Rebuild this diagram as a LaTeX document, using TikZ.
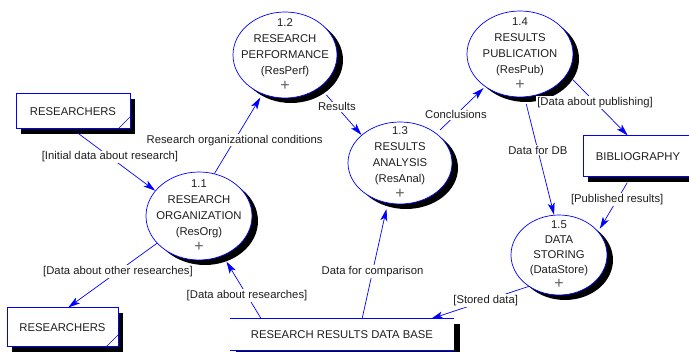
\documentclass[tikz,border=0pt]{standalone}
\usepackage{fontspec}
\setmainfont{Liberation Sans}
\definecolor{FlowBlue}{HTML}{0000FF}
\definecolor{InkDark}{HTML}{1E1E1E}
\usetikzlibrary{shapes.geometric, arrows.meta, shadows}
\newcommand{\pplus}{\textcolor{InkDark!70}{\fontsize{16}{16}\selectfont+}}

\begin{document}
\begin{tikzpicture}[x=1pt, y=-1pt,
    font=\fontsize{11.3}{16}\selectfont, text=InkDark,
    proc/.style={ellipse, draw=FlowBlue, line width=0.7pt, fill=white, inner sep=-16pt, align=center,
        drop shadow={fill=black, opacity=1, shadow xshift=6pt, shadow yshift=-5pt}},
    extern/.style={rectangle, draw=FlowBlue, line width=1pt, fill=white, inner sep=0pt,
        drop shadow={fill=black, opacity=1, shadow xshift=5pt, shadow yshift=-5pt}},
    store/.style={rectangle, fill=white, inner sep=0pt, minimum width=224pt, minimum height=31pt,
        drop shadow={fill=black, opacity=1, shadow xshift=6pt, shadow yshift=-5pt}},
    flow/.style={draw=FlowBlue, line width=0.7pt, -{Stealth[length=12pt, width=7pt, inset=3pt]}},
    lbl/.style={fill=white, inner sep=1pt}
]
  \fill[white] (0,0) rectangle (689,352);
  \useasboundingbox (0,0) rectangle (689,352);
  \clip (0,0) rectangle (689,352);

  % external entities and the store
  \node[extern, minimum width=114pt, minimum height=35pt] (resTop) at (73,111.5) {RESEARCHERS};
  \node[extern, minimum width=111pt, minimum height=39pt] (resBot) at (62.5,327.5) {RESEARCHERS};
  \node[extern, minimum width=110pt, minimum height=41pt] (biblio) at (638,156.5) {BIBLIOGRAPHY};
  \node[store] (resDB) at (342,334.5) {RESEARCH RESULTS DATA BASE};
  \draw[FlowBlue, line width=0.8pt] (resDB.north west) -- (resDB.north east)
                                    (resDB.south west) -- (resDB.south east);
  % duplicate marks
  \draw[FlowBlue, line width=0.7pt] ([xshift=-13pt]resTop.south east) -- ([yshift=13pt]resTop.south east);
  \draw[FlowBlue, line width=0.7pt] ([xshift=-13pt]resBot.south east) -- ([yshift=13pt]resBot.south east);

  % processes
  \node[proc, minimum width=106pt, minimum height=88pt] (resOrg) at (199,216)
      {1.1\\RESEARCH\\ORGANIZATION\\(ResOrg)\\\pplus};
  \node[proc, minimum width=104pt, minimum height=86pt] (resPerf) at (285,55)
      {1.2\\RESEARCH\\PERFORMANCE\\(ResPerf)\\\pplus};
  \node[proc, minimum width=104pt, minimum height=82pt] (resAnal) at (400,163)
      {1.3\\RESULTS\\ANALYSIS\\(ResAnal)\\\pplus};
  \node[proc, minimum width=106pt, minimum height=86pt] (resPub) at (520,54)
      {1.4\\RESULTS\\PUBLICATION\\(ResPub)\\\pplus};
  \node[proc, minimum width=96pt, minimum height=80pt, font=\fontsize{11.3}{15}\selectfont] (dataStore) at (559,255)
      {1.5\\DATA\\STORING\\(DataStore)\\\pplus};

  % data flows
  \draw[flow, shorten <=6pt] (resTop.south) -- node[lbl, pos=0.45] (lInit) {[Initial data about research]} (resOrg.150);
  \draw[flow, shorten >=4pt] (resOrg.70) -- node[lbl, pos=0.42] (lCond) {Research organizational conditions} (resPerf.240);
  \draw[flow, shorten <=10pt] (resPerf.-43) -- node[lbl, pos=0.41] (lRes) {Results} (resAnal.144);
  \draw[flow, shorten <=5pt, shorten >=2pt] (resAnal.39) -- node[lbl, pos=0.4] (lConc) {Conclusions} (resPub.223);
  \draw[flow, shorten <=8pt] (resPub.-23) -- node[lbl, pos=0.46] (lPubl) {[Data about publishing]} (biblio.116);
  \draw[flow, shorten <=7pt] (resPub.-84) -- node[lbl, pos=0.45] (lDB) {Data for DB} (dataStore.97);
  \draw[flow, shorten <=6pt, shorten >=3pt] (biblio.250) -- node[lbl, pos=0.41] (lPubRes) {[Published results]} (dataStore.31);
  \draw[flow] (dataStore.226) -- node[lbl, pos=0.44] (lStored) {[Stored data]} (resDB.10);
  \draw[flow, shorten >=6pt] (resDB.38) -- node[lbl, pos=0.41] (lComp) {Data for comparison} (resAnal.253);
  \draw[flow, shorten >=7pt] (resDB.169) -- node[lbl, pos=0.37] (lAbout) {[Data about researches]} (resOrg.301);
  \draw[flow] (resOrg.213) -- node[lbl, pos=0.44] (lOther) {[Data about other researches]} (resBot.74);
\end{tikzpicture}
\end{document}
